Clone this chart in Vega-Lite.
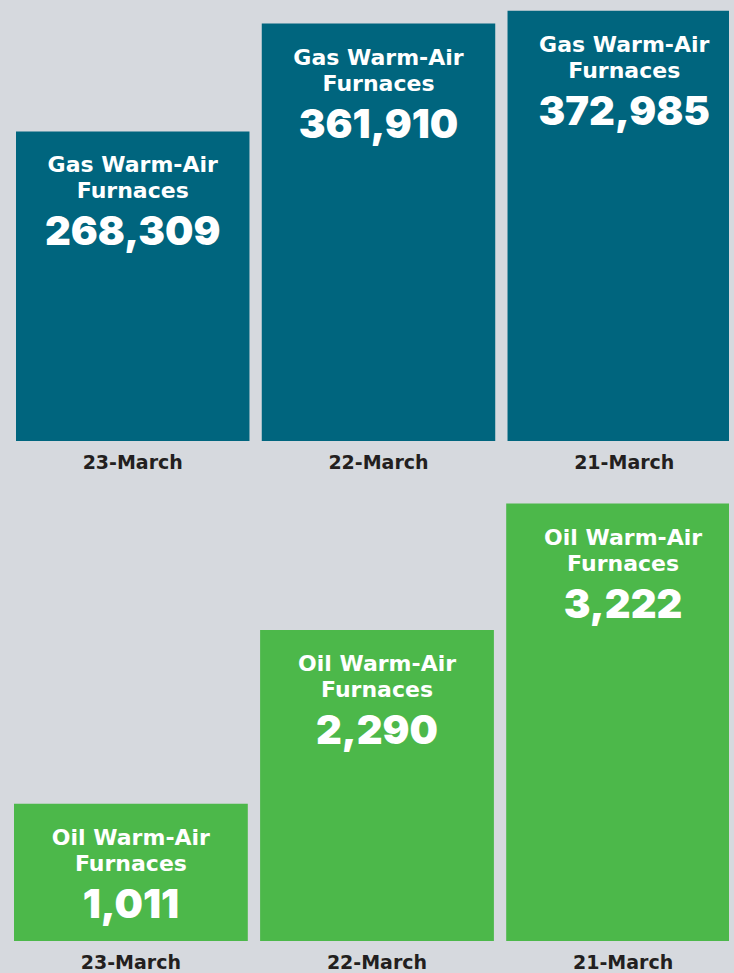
{
  "$schema": "https://vega.github.io/schema/vega-lite/v6.json",
  "padding": {"left": 0, "top": 0, "right": 5, "bottom": 0},
  "background": "#d6d9de",
  "spacing": 0,
  "config": {"view": {"stroke": null}, "font": "DejaVu Sans"},
  "vconcat": [
    {
      "width": 729,
      "height": 441,
      "data": {"values": [
        {"date": "23-March", "units": 268309, "line1": "Gas Warm-Air", "line2": "Furnaces"},
        {"date": "22-March", "units": 361910, "line1": "Gas Warm-Air", "line2": "Furnaces"},
        {"date": "21-March", "units": 372985, "line1": "Gas Warm-Air", "line2": "Furnaces"}
      ]},
      "encoding": {
        "x": {"field": "date", "type": "nominal", "sort": null,
          "scale": {"range": [16, 741], "paddingInner": 0.05, "paddingOuter": 0},
          "axis": {"title": null, "domain": false, "ticks": false, "labelAngle": 0, "labelFont": "DejaVu Sans", "labelFontWeight": "bold", "labelFontSize": 19, "labelColor": "#231f20", "labelPadding": 12, "minExtent": 40, "maxExtent": 40}},
        "y": {"field": "units", "type": "quantitative", "scale": {"domain": [0, 382300], "nice": false}, "axis": null}
      },
      "layer": [
        {"mark": {"type": "bar", "color": "#00657e", "clip": true}},
        {"mark": {"type": "text", "dy": 41, "baseline": "alphabetic", "align": "center", "color": "white", "fontWeight": "bold", "fontSize": 22, "font": "DejaVu Sans"},
         "encoding": {"text": {"field": "line1"}}},
        {"mark": {"type": "text", "dy": 67, "baseline": "alphabetic", "align": "center", "color": "white", "fontWeight": "bold", "fontSize": 22, "font": "DejaVu Sans"},
         "encoding": {"text": {"field": "line2"}}},
        {"mark": {"type": "text", "dy": 114, "baseline": "alphabetic", "align": "center", "color": "white", "fontWeight": 900, "fontSize": 40, "font": "Inter"},
         "encoding": {"text": {"field": "units", "type": "quantitative", "format": ","}}}
      ]
    },
    {
      "width": 729,
      "height": 460,
      "data": {"values": [
        {"date": "23-March", "units": 1011, "line1": "Oil Warm-Air", "line2": "Furnaces"},
        {"date": "22-March", "units": 2290, "line1": "Oil Warm-Air", "line2": "Furnaces"},
        {"date": "21-March", "units": 3222, "line1": "Oil Warm-Air", "line2": "Furnaces"}
      ]},
      "encoding": {
        "x": {"field": "date", "type": "nominal", "sort": null,
          "scale": {"range": [14, 740], "paddingInner": 0.05, "paddingOuter": 0},
          "axis": {"title": null, "domain": false, "ticks": false, "labelAngle": 0, "labelFont": "DejaVu Sans", "labelFontWeight": "bold", "labelFontSize": 19, "labelColor": "#231f20", "labelPadding": 12, "minExtent": 32, "maxExtent": 32}},
        "y": {"field": "units", "type": "quantitative", "scale": {"domain": [0, 3388], "nice": false}, "axis": null}
      },
      "layer": [
        {"mark": {"type": "bar", "color": "#4cb84a", "clip": true}},
        {"mark": {"type": "text", "dy": 41, "baseline": "alphabetic", "align": "center", "color": "white", "fontWeight": "bold", "fontSize": 22, "font": "DejaVu Sans"},
         "encoding": {"text": {"field": "line1"}}},
        {"mark": {"type": "text", "dy": 67, "baseline": "alphabetic", "align": "center", "color": "white", "fontWeight": "bold", "fontSize": 22, "font": "DejaVu Sans"},
         "encoding": {"text": {"field": "line2"}}},
        {"mark": {"type": "text", "dy": 114, "baseline": "alphabetic", "align": "center", "color": "white", "fontWeight": 900, "fontSize": 40, "font": "Inter"},
         "encoding": {"text": {"field": "units", "type": "quantitative", "format": ","}}}
      ]
    }
  ]
}
